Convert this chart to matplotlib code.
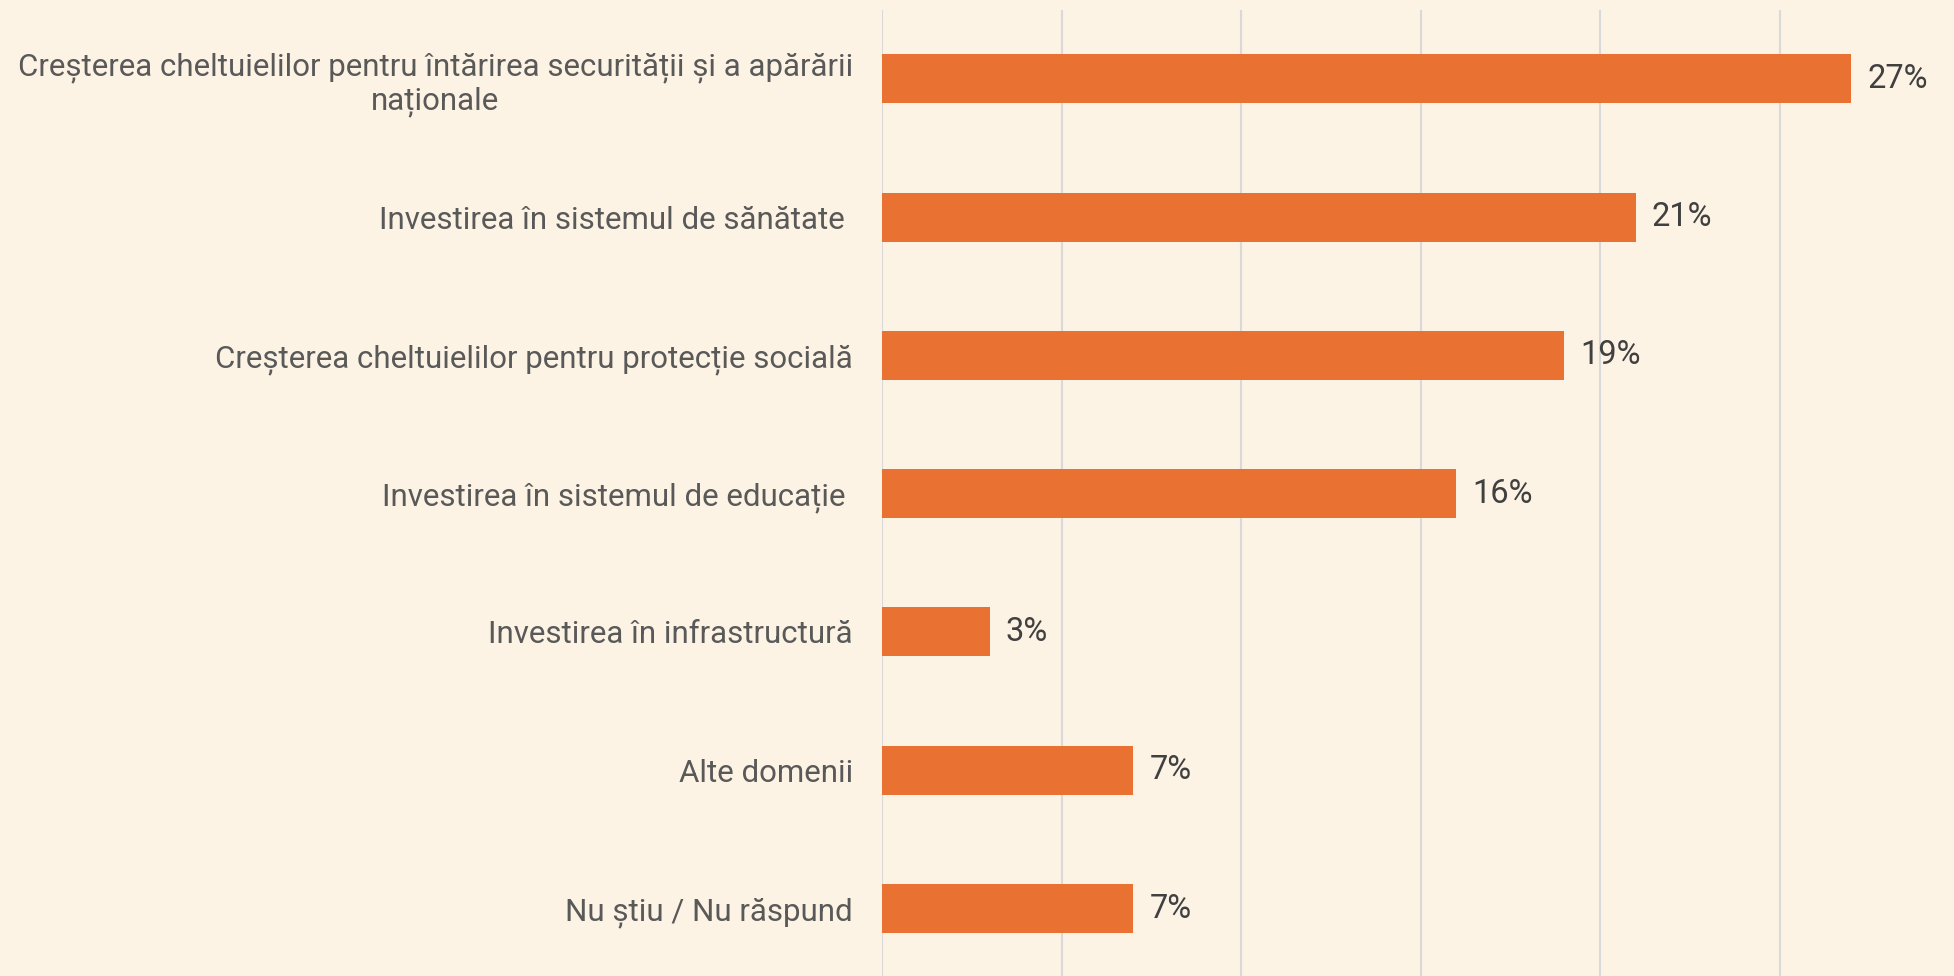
import matplotlib
matplotlib.use("Agg")
import matplotlib.pyplot as plt
from matplotlib import font_manager

# Data
categories = [
    "Creșterea cheltuielilor pentru întărirea securității și a apărării\nnaționale",
    "Investirea în sistemul de sănătate ",
    "Creșterea cheltuielilor pentru protecție socială",
    "Investirea în sistemul de educație ",
    "Investirea în infrastructură",
    "Alte domenii",
    "Nu știu / Nu răspund",
]
values = [27, 21, 19, 16, 3, 7, 7]
value_labels = ["27%", "21%", "19%", "16%", "3%", "7%", "7%"]

BG = "#fdf3e4"
BAR = "#e97132"
GRID = "#d9d9d9"

installed = {f.name for f in font_manager.fontManager.ttflist}
fam = "Liberation Sans Narrow" if "Liberation Sans Narrow" in installed else "Roboto"
plt.rcParams["font.family"] = [fam, "DejaVu Sans"]

W, H = 1954, 976
fig = plt.figure(figsize=(W / 100, H / 100), dpi=100, facecolor=BG)
x0 = 882 / W
ax = fig.add_axes([x0, 0, 1 - x0, (H - 10) / H], facecolor=BG)

ypos = list(range(len(categories)))
ax.barh(ypos, values, height=0.354, color=BAR, zorder=3)

ax.set_xlim(0, (W - 882) / 35.9)
ax.set_ylim(6.488, -0.4975)
ax.set_xticks([0, 5, 10, 15, 20, 25])
ax.xaxis.grid(True, color=GRID, lw=1.5, zorder=0)
ax.tick_params(axis="x", length=0, labelbottom=False)
ax.tick_params(axis="y", length=0, pad=21)
ax.set_yticks(ypos)
ax.set_yticklabels(categories, fontsize=22.5, color="#595959", ha="right",
                   multialignment="center", linespacing=1.15)
for s in ax.spines.values():
    s.set_visible(False)

for y, v, lab in zip(ypos, values, value_labels):
    ax.annotate(lab, (v, y), xytext=(16, 0), textcoords="offset pixels",
                va="center", ha="left", fontsize=23.5, color="#404040")

fig.savefig("out.png", dpi=100, facecolor=BG)
